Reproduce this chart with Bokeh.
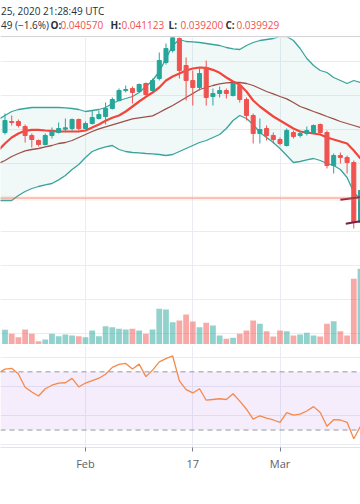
import pandas as pd
from bokeh.plotting import figure
from bokeh.layouts import column
from bokeh.models import Range1d, FixedTicker, Span, ColumnDataSource, BoxAnnotation
from bokeh.core.properties import value
from bokeh.embed import file_html
from bokeh.resources import INLINE

# ---------------- data ----------------
candle_start, candle_end = "2020-01-20", "2020-03-13"
open_ = [0.04195, 0.04228, 0.04228, 0.04213, 0.04186, 0.04171, 0.04159, 0.04186, 0.04195, 0.04205, 0.04207, 0.04234,
         0.04207, 0.04222, 0.04237, 0.04243, 0.04267, 0.04291, 0.04321, 0.04327, 0.04318, 0.04342, 0.04321, 0.04357,
         0.04405, 0.04441, 0.04477, 0.04396, 0.04351, 0.04330, 0.04390, 0.04303, 0.04312, 0.04321, 0.04306, 0.04336,
         0.04294, 0.04246, 0.04192, 0.04207, 0.04186,
         0.04174, 0.04156, 0.04195, 0.04186, 0.04192, 0.04195, 0.04219, 0.04195, 0.04096, 0.04126, 0.04120, 0.04105, 0.03925]
high = [0.04252, 0.04246, 0.04234, 0.04219, 0.04192, 0.04174, 0.04192, 0.04210, 0.04225, 0.04237, 0.04237, 0.04237,
        0.04228, 0.04261, 0.04261, 0.04285, 0.04300, 0.04327, 0.04336, 0.04333, 0.04342, 0.04345, 0.04357, 0.04435,
        0.04462, 0.04492, 0.04501, 0.04420, 0.04381, 0.04387, 0.04411, 0.04327, 0.04333, 0.04327, 0.04345, 0.04342,
        0.04300, 0.04252, 0.04237, 0.04216, 0.04195,
        0.04180, 0.04207, 0.04201, 0.04198, 0.04213, 0.04219, 0.04222, 0.04201, 0.04132, 0.04135, 0.04126, 0.04111, 0.04051]
low = [0.04189, 0.04216, 0.04210, 0.04165, 0.04150, 0.04153, 0.04156, 0.04177, 0.04192, 0.04198, 0.04201, 0.04201,
       0.04204, 0.04219, 0.04234, 0.04219, 0.04264, 0.04288, 0.04315, 0.04282, 0.04315, 0.04306, 0.04318, 0.04351,
       0.04399, 0.04435, 0.04357, 0.04291, 0.04276, 0.04321, 0.04276, 0.04276, 0.04300, 0.04297, 0.04303, 0.04285,
       0.04231, 0.04162, 0.04162, 0.04171, 0.04162,
       0.04156, 0.04153, 0.04177, 0.04180, 0.04186, 0.04192, 0.04192, 0.04087, 0.04072, 0.04102, 0.04072, 0.03907, 0.03913]
close = [0.04231, 0.04225, 0.04216, 0.04186, 0.04174, 0.04159, 0.04186, 0.04198, 0.04207, 0.04209, 0.04234, 0.04207,
         0.04222, 0.04240, 0.04249, 0.04267, 0.04294, 0.04321, 0.04324, 0.04315, 0.04339, 0.04309, 0.04351, 0.04411,
         0.04447, 0.04480, 0.04381, 0.04351, 0.04330, 0.04372, 0.04300, 0.04312, 0.04321, 0.04312, 0.04342, 0.04294,
         0.04246, 0.04192, 0.04204, 0.04186, 0.04174,
         0.04162, 0.04201, 0.04183, 0.04192, 0.04201, 0.04216, 0.04195, 0.04096, 0.04126, 0.04120, 0.04105, 0.03925, 0.04021]
volume = [1470, 1070, 730, 1500, 1070, 330, 500, 1070, 830, 1000, 900, 830,
          730, 1400, 830, 1830, 1730, 1570, 1500, 1570, 1400, 1070, 1500, 3570, 3500, 2230, 2400, 3000, 2300, 1730,
          2170, 1900, 900, 570, 670, 1070, 1400, 2400, 2070, 1330, 800,
          1400, 1330, 900, 1000, 1170, 900, 800, 2070, 2330, 1330, 900, 6570, 7570]

line_start, line_end = "2020-01-19", "2020-03-13"
bb_upper = [0.04234, 0.04246, 0.04258, 0.04264, 0.04267, 0.04270, 0.04270, 0.04270, 0.04270, 0.04270, 0.04269, 0.04267,
            0.04264, 0.04258, 0.04261, 0.04264, 0.04270, 0.04282, 0.04291, 0.04297, 0.04303, 0.04315, 0.04333, 0.04351,
            0.04378, 0.04417, 0.04456, 0.04474, 0.04468, 0.04467, 0.04465, 0.04462, 0.04459, 0.04456, 0.04450, 0.04446,
            0.04444, 0.04456, 0.04465, 0.04471, 0.04474, 0.04477, 0.04483, 0.04483, 0.04471, 0.04447, 0.04417, 0.04396,
            0.04381, 0.04375, 0.04360, 0.04351, 0.04342, 0.04351, 0.04345]
bb_lower = [0.03991, 0.03991, 0.03991, 0.04006, 0.04018, 0.04027, 0.04033, 0.04038, 0.04042, 0.04053, 0.04066, 0.04084,
            0.04099, 0.04120, 0.04138, 0.04146, 0.04152, 0.04156, 0.04144, 0.04138, 0.04135, 0.04134, 0.04132, 0.04131,
            0.04129, 0.04126, 0.04129, 0.04138, 0.04147, 0.04156, 0.04165, 0.04171, 0.04180, 0.04189, 0.04207, 0.04231,
            0.04246, 0.04237, 0.04219, 0.04195, 0.04180, 0.04165, 0.04147, 0.04126, 0.04105, 0.04108, 0.04113, 0.04117,
            0.04111, 0.04102, 0.04096, 0.04084, 0.04060, 0.04015, 0.03994]
bb_basis = [0.04102, 0.04111, 0.04123, 0.04132, 0.04140, 0.04144, 0.04147, 0.04152, 0.04156, 0.04162, 0.04165, 0.04171,
            0.04180, 0.04189, 0.04198, 0.04206, 0.04212, 0.04218, 0.04224, 0.04230, 0.04236, 0.04239, 0.04242, 0.04245,
            0.04255, 0.04266, 0.04276, 0.04288, 0.04300, 0.04312, 0.04324, 0.04330, 0.04336, 0.04341, 0.04344, 0.04345,
            0.04345, 0.04342, 0.04336, 0.04327, 0.04318, 0.04311, 0.04303, 0.04296, 0.04285, 0.04273, 0.04266, 0.04258,
            0.04251, 0.04243, 0.04236, 0.04228, 0.04222, 0.04216, 0.04210]
ma_fast = [0.04141, 0.04162, 0.04180, 0.04192, 0.04200, 0.04203, 0.04203, 0.04201, 0.04200, 0.04198, 0.04198, 0.04198,
           0.04198, 0.04201, 0.04210, 0.04219, 0.04230, 0.04239, 0.04246, 0.04258, 0.04273, 0.04288, 0.04302, 0.04315,
           0.04330, 0.04351, 0.04363, 0.04372, 0.04381, 0.04387, 0.04390, 0.04389, 0.04383, 0.04374, 0.04360, 0.04348,
           0.04338, 0.04318, 0.04291, 0.04273, 0.04258, 0.04243, 0.04231, 0.04219, 0.04207, 0.04198, 0.04195, 0.04192,
           0.04189, 0.04180, 0.04174, 0.04168, 0.04162, 0.04141, 0.04117]
rsi = [69.2, 71.9, 72.4, 68.5, 59.4, 56.1, 53.4, 58.4, 60.8, 62.3, 62.5, 65.5, 59.6,
       62.3, 64.0, 65.6, 68.3, 73.1, 75.1, 75.8, 71.9, 75.3, 66.7, 71.2, 76.8, 79.1, 80.9, 63.8, 57.8,
       55.5, 58.4, 50.5, 51.0, 51.5, 51.0, 54.9, 49.9, 44.3, 37.5, 39.8, 38.2, 36.9,
       35.3, 42.0, 40.2, 40.9, 43.1, 46.1, 42.0, 32.6, 37.1, 36.9, 35.3, 24.0, 32.6]

tick_dates = ["2020-02-01", "2020-02-17", "2020-03-01"]
tick_labels = ["Feb", "17", "Mar"]
price_grid = [0.03592, 0.03694, 0.03796, 0.03898, 0.04000, 0.04102, 0.04204, 0.04306, 0.04408]
rsi_grid = [20, 40, 60, 80]
rsi_bands = [30, 70]
last_price = 0.03998

# drawing marks near the last candles (day offsets from Feb 1, price)
mark_d0 = [38.0, 38.8]
mark_p0 = [0.03993, 0.03921]
mark_d1 = [41.0, 41.0]
mark_p1 = [0.04001, 0.03929]

header_time = "25, 2020 21:28:49 UTC"
header_change = "49 (\u22121.6%)"
ohlc_keys = ["O:", "H:", "L:", "C:"]
ohlc_values = ["0.040570", "0.041123", "0.039200", "0.039929"]

# ---------------- derived x positions (days from Feb 1) ----------------
origin = pd.Timestamp("2020-02-01")
cx = [(t - origin).days for t in pd.date_range(candle_start, candle_end, freq="D")]
lx = [(t - origin).days for t in pd.date_range(line_start, line_end, freq="D")]
tick_x = [(pd.Timestamp(t) - origin).days for t in tick_dates]

UP, DOWN = "#26a69a", "#ef5350"
up = [c >= o for o, c in zip(open_, close)]
ccol = [UP if u else DOWN for u in up]
src = ColumnDataSource(dict(
    x=cx, o=open_, h=high, l=low, c=close, vol=volume, col=ccol,
    top=[max(o, c) for o, c in zip(open_, close)],
    bot=[min(o, c) for o, c in zip(open_, close)],
))

W = 360
FONT = value("Open Sans")
xr = Range1d(-12.67, 41.0)
GRID = "#e9edf3"
DARK = "#2a2e39"

# ---------------- header ----------------
head = figure(width=W, height=37, x_range=Range1d(0, 360), y_range=Range1d(0, 37),
              x_axis_location=None, y_axis_location=None, toolbar_location=None,
              output_backend="svg", min_border=0, outline_line_color=None)
head.grid.visible = False
head.add_layout(Span(location=0.5, dimension="width", line_color="#a3a6af", line_width=1))
head.text(x=[0.5], y=[27], text=[header_time], text_baseline="middle",
          text_font=FONT, text_font_size="10px", text_color=DARK)
head.text(x=[0.5], y=[13], text=[header_change], text_baseline="middle",
          text_font=FONT, text_font_size="10px", text_color=DARK)
head.text(x=[50, 110, 168, 225], y=[13] * 4, text=ohlc_keys, text_baseline="middle",
          text_font=FONT, text_font_size="10px", text_color=DARK, text_font_style="bold")
head.text(x=[60, 121, 180, 236], y=[13] * 4, text=ohlc_values, text_baseline="middle",
          text_font=FONT, text_font_size="10px", text_color=DOWN)

# ---------------- main price pane ----------------
main = figure(width=W, height=307, x_range=xr, y_range=Range1d(0.03559, 0.04480),
              x_axis_location=None, y_axis_location=None, toolbar_location=None,
              output_backend="svg", min_border=0, outline_line_color=None)
main.extra_y_ranges = {"vol": Range1d(0, 30700)}
main.xgrid.ticker = FixedTicker(ticks=tick_x)
main.ygrid.ticker = FixedTicker(ticks=price_grid)
main.grid.grid_line_color = GRID

main.varea(x=lx, y1=bb_lower, y2=bb_upper, fill_color=UP, fill_alpha=0.07)
main.vbar(x="x", top="vol", bottom=0, width=0.86, source=src, y_range_name="vol",
          fill_color="col", fill_alpha=0.5, line_color=None)
main.line(lx, bb_upper, line_color="#3aa39b", line_width=1.3)
main.line(lx, bb_lower, line_color="#3aa39b", line_width=1.3)
main.line(lx, bb_basis, line_color="#9e4f4b", line_width=1.3)
main.line(lx, ma_fast, line_color="#f2453b", line_width=2.2)

main.add_layout(Span(location=last_price, dimension="width", line_color="#ff9a5c",
                     line_alpha=0.13, line_width=5))
main.add_layout(Span(location=last_price, dimension="width", line_color=DOWN,
                     line_width=1, line_dash="1 1"))

main.segment(x0="x", y0="l", x1="x", y1="h", source=src, line_color="col", line_width=1)
main.vbar(x="x", top="top", bottom="bot", width=0.6, source=src,
          fill_color="col", line_color="col", line_width=1)
main.segment(x0=mark_d0, y0=mark_p0, x1=mark_d1, y1=mark_p1, line_color="#7a1f45", line_width=2)

# ---------------- separator ----------------
def rule(color):
    r = figure(width=W, height=1, toolbar_location=None, output_backend="svg", min_border=0,
               x_axis_location=None, y_axis_location=None, outline_line_color=None,
               background_fill_color=color, border_fill_color=color)
    r.grid.visible = False
    return r

sep = rule("#4a4d57")

# ---------------- RSI pane ----------------
rp = figure(width=W, height=128, x_range=xr, y_range=Range1d(18.0, 88.1),
            y_axis_location=None, toolbar_location=None, output_backend="svg",
            min_border=0, min_border_bottom=24, outline_line_color=None)
rp.xgrid.ticker = FixedTicker(ticks=tick_x)
rp.ygrid.ticker = FixedTicker(ticks=rsi_grid)
rp.grid.grid_line_color = GRID
rp.add_layout(BoxAnnotation(bottom=rsi_bands[0], top=rsi_bands[1], fill_color="#a040e0",
                            fill_alpha=0.1, line_color=None, level="underlay"))
for lvl in rsi_bands:
    rp.add_layout(Span(location=lvl, dimension="width", line_color="#9598a1",
                       line_width=1, line_dash="5 4"))
rp.line(lx, rsi, line_color="#f5894b", line_width=1.3)

ax = rp.xaxis[0]
ax.ticker = FixedTicker(ticks=tick_x)
ax.major_label_overrides = dict(zip(tick_x, tick_labels))
ax.axis_line_color = "#e0e3eb"
ax.major_tick_line_color = "#787b86"
ax.major_tick_out = 4
ax.major_tick_in = 0
ax.minor_tick_line_color = None
ax.major_label_standoff = 4
ax.major_label_text_font = "Open Sans"
ax.major_label_text_font_size = "11px"
ax.major_label_text_color = "#5d606b"

bottom = rule("#8f929b")

layout = column(head, main, sep, rp, bottom, spacing=0)
open("out.html", "w").write(file_html(layout, INLINE))
